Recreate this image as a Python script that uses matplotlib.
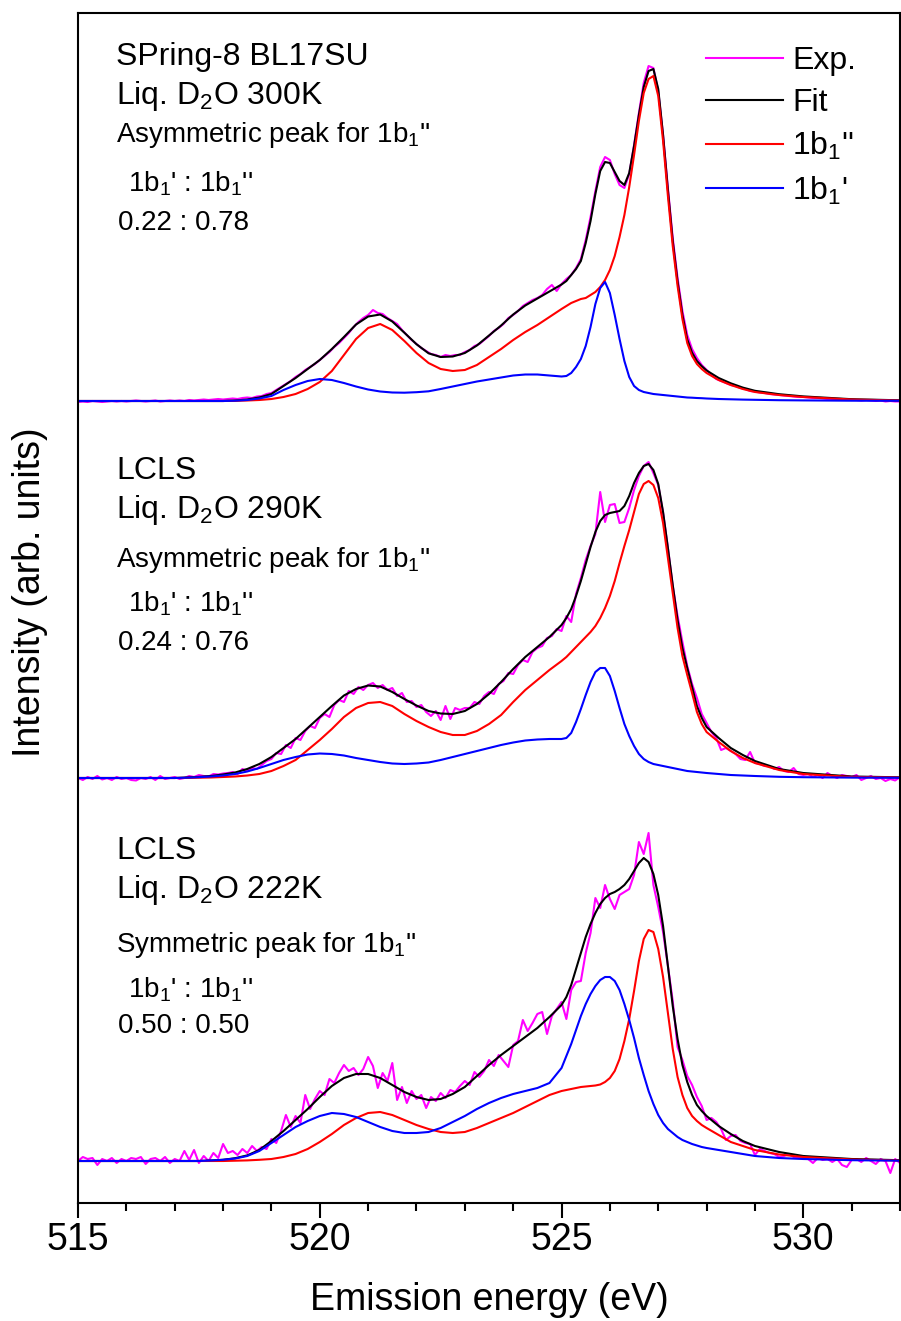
import numpy as np
import matplotlib as mpl
mpl.use('Agg')
from matplotlib import pyplot as plt
from matplotlib.ticker import MultipleLocator
from matplotlib.lines import Line2D

plt.rcParams['font.family'] = ['Liberation Sans', 'DejaVu Sans']
plt.rcParams['mathtext.fontset'] = 'custom'
plt.rcParams['mathtext.rm'] = 'Liberation Sans'
plt.rcParams['mathtext.it'] = 'Liberation Sans:italic'

# energy grid (eV) for the fitted curves
energy = np.array([515.0, 516.0, 517.0,
                   517.25, 517.5, 517.75, 518.0, 518.25, 518.5, 518.75, 519.0, 519.25, 519.5, 519.75,
                   520.0, 520.25, 520.5, 520.75, 521.0, 521.25, 521.5, 521.75, 522.0, 522.25, 522.5,
                   522.75, 523.0, 523.25, 523.5, 523.75, 524.0, 524.25, 524.5, 524.75,
                   525.0, 525.1, 525.2, 525.3, 525.4, 525.5, 525.6, 525.7, 525.8, 525.9,
                   526.0, 526.1, 526.2, 526.3, 526.4, 526.5, 526.6, 526.7, 526.8, 526.9,
                   527.0, 527.1, 527.2, 527.3, 527.4, 527.5, 527.6, 527.7, 527.8, 527.9, 528.0,
                   528.25, 528.5, 528.75, 529.0, 529.5, 530.0, 531.0, 532.0])
# energy grid for the measured spectra
energy_exp = np.linspace(515, 532, 171)

# ---- SPring-8 BL17SU, 300 K ----
spring_red = [0, 0, 0, 0, 0, 0, 0, 0.002, 0.005, 0.01, 0.02, 0.04, 0.07, 0.12,
              0.19, 0.30, 0.46, 0.62, 0.73, 0.77, 0.71, 0.60, 0.48, 0.38, 0.32,
              0.30, 0.31, 0.36, 0.44, 0.52, 0.61, 0.69, 0.76, 0.84,
              0.92, 0.95, 0.98, 1.00, 1.02, 1.03, 1.06, 1.09, 1.14, 1.21,
              1.31, 1.45, 1.64, 1.86, 2.14, 2.46, 2.80, 3.08, 3.22, 3.25,
              3.05, 2.60, 2.05, 1.55, 1.15, 0.82, 0.58, 0.45, 0.37, 0.32, 0.28,
              0.21, 0.16, 0.12, 0.09, 0.06, 0.04, 0.015, 0.005]
spring_blue = [0, 0, 0, 0, 0, 0, 0, 0.003, 0.01, 0.025, 0.05, 0.11, 0.16, 0.20,
               0.22, 0.21, 0.18, 0.145, 0.115, 0.095, 0.085, 0.083, 0.088, 0.097, 0.12,
               0.145, 0.17, 0.195, 0.215, 0.235, 0.255, 0.265, 0.265, 0.255,
               0.245, 0.25, 0.28, 0.34, 0.42, 0.55, 0.74, 0.97, 1.13, 1.19,
               1.08, 0.86, 0.62, 0.40, 0.24, 0.15, 0.11, 0.09, 0.08, 0.07,
               0.065, 0.06, 0.055, 0.05, 0.045, 0.04, 0.035, 0.033, 0.03, 0.028, 0.025,
               0.02, 0.017, 0.014, 0.012, 0.008, 0.006, 0.003, 0.002]
spring_fit = [0, 0, 0, 0, 0, 0, 0, 0.005, 0.015, 0.035, 0.07, 0.15, 0.23, 0.32,
              0.41, 0.52, 0.64, 0.765, 0.845, 0.865, 0.795, 0.683, 0.568, 0.477, 0.44,
              0.445, 0.48, 0.555, 0.655, 0.755, 0.865, 0.955, 1.025, 1.095,
              1.165, 1.20, 1.26, 1.32, 1.40, 1.58, 1.80, 2.07, 2.30, 2.39,
              2.38, 2.29, 2.20, 2.16, 2.28, 2.55, 2.86, 3.14, 3.30, 3.32,
              3.12, 2.66, 2.11, 1.60, 1.195, 0.86, 0.615, 0.483, 0.40, 0.348, 0.305,
              0.23, 0.177, 0.134, 0.102, 0.068, 0.046, 0.018, 0.007]
spring_exp = [-0.01, -0.005, -0.01, 0.0, -0.005, -0.01, -0.005, 0.0, -0.005, 0.0,
              -0.005, 0.0, 0.005, 0.0, -0.005, 0.0, 0.005, -0.005, 0.0, 0.005,
              0.0, 0.005, 0.0, 0.01, 0.005, 0.01, 0.015, 0.01, 0.015, 0.02,
              0.015, 0.02, 0.025, 0.02, 0.03, 0.035, 0.03, 0.045, 0.05, 0.07,
              0.08, 0.11, 0.14, 0.17, 0.20, 0.24, 0.27, 0.31, 0.34, 0.37,
              0.41, 0.45, 0.49, 0.54, 0.58, 0.63, 0.68, 0.74, 0.79, 0.83,
              0.86, 0.91, 0.88, 0.87, 0.83, 0.80, 0.77, 0.71, 0.66, 0.61,
              0.57, 0.53, 0.50, 0.47, 0.46, 0.44, 0.46, 0.45, 0.46, 0.46,
              0.49, 0.51, 0.55, 0.57, 0.61, 0.65, 0.70, 0.73, 0.77, 0.83,
              0.86, 0.90, 0.95, 0.98, 1.01, 1.03, 1.06, 1.12, 1.16, 1.10,
              1.17, 1.22, 1.26, 1.33, 1.42, 1.61, 1.84, 2.10, 2.34, 2.44,
              2.41, 2.27, 2.16, 2.13, 2.27, 2.56, 2.88, 3.18, 3.35, 3.33,
              3.10, 2.66, 2.13, 1.63, 1.23, 0.90, 0.66, 0.52, 0.43, 0.36,
              0.31, 0.26, 0.22, 0.20, 0.18, 0.16, 0.15, 0.13, 0.12, 0.10,
              0.095, 0.085, 0.08, 0.07, 0.065, 0.06, 0.055, 0.05, 0.045, 0.04,
              0.04, 0.035, 0.03, 0.03, 0.025, 0.02, 0.02, 0.02, 0.015, 0.01,
              0.015, 0.01, 0.005, 0.01, 0.005, 0.0, 0.005, -0.005, 0.0, -0.005,
              -0.005]

# ---- LCLS, 290 K ----
lcls290_red = [0, 0, 0, 0.001, 0.003, 0.005, 0.01, 0.015, 0.025, 0.04, 0.07, 0.12, 0.18, 0.28,
               0.38, 0.49, 0.61, 0.70, 0.75, 0.76, 0.72, 0.64, 0.57, 0.51, 0.46,
               0.43, 0.43, 0.47, 0.54, 0.63, 0.76, 0.88, 0.98, 1.08,
               1.17, 1.21, 1.26, 1.31, 1.36, 1.41, 1.46, 1.52, 1.60, 1.70,
               1.82, 1.97, 2.15, 2.32, 2.48, 2.66, 2.84, 2.94, 2.97, 2.93,
               2.80, 2.55, 2.20, 1.85, 1.50, 1.22, 1.03, 0.85, 0.66, 0.54, 0.46,
               0.36, 0.27, 0.20, 0.15, 0.08, 0.04, 0.01, 0.005]
lcls290_blue = [0, 0, 0, 0.003, 0.008, 0.015, 0.025, 0.04, 0.065, 0.10, 0.14, 0.18, 0.21, 0.235,
                0.245, 0.24, 0.225, 0.20, 0.18, 0.16, 0.145, 0.14, 0.145, 0.155, 0.18,
                0.21, 0.24, 0.27, 0.30, 0.33, 0.355, 0.375, 0.385, 0.39,
                0.39, 0.40, 0.45, 0.56, 0.69, 0.83, 0.96, 1.06, 1.10, 1.10,
                1.02, 0.87, 0.70, 0.54, 0.42, 0.32, 0.24, 0.19, 0.16, 0.14,
                0.13, 0.12, 0.11, 0.10, 0.09, 0.08, 0.07, 0.065, 0.06, 0.055, 0.05,
                0.04, 0.03, 0.025, 0.02, 0.012, 0.008, 0.004, 0.002]
lcls290_fit = [0, 0, 0, 0.005, 0.011, 0.02, 0.035, 0.055, 0.09, 0.14, 0.21, 0.30, 0.39, 0.50,
               0.61, 0.72, 0.825, 0.89, 0.925, 0.915, 0.86, 0.79, 0.725, 0.67, 0.645,
               0.64, 0.67, 0.74, 0.84, 0.96, 1.09, 1.21, 1.31, 1.41,
               1.53, 1.60, 1.69, 1.82, 1.97, 2.14, 2.31, 2.46, 2.57, 2.63,
               2.65, 2.66, 2.67, 2.72, 2.82, 2.95, 3.05, 3.12, 3.14, 3.08,
               2.94, 2.66, 2.30, 1.93, 1.58, 1.30, 1.10, 0.91, 0.72, 0.60, 0.51,
               0.40, 0.30, 0.23, 0.17, 0.09, 0.05, 0.015, 0.007]
lcls290_exp = [0.0, -0.02, 0.01, -0.01, 0.02, -0.015, 0.0, -0.02, 0.01, -0.01,
               0.0, -0.02, -0.025, 0.0, -0.01, 0.01, -0.02, 0.02, -0.01, 0.0,
               0.01, -0.01, 0.0, 0.02, 0.01, 0.03, 0.02, 0.015, 0.04, 0.035,
               0.045, 0.05, 0.06, 0.04, 0.09, 0.07, 0.10, 0.09, 0.13, 0.17,
               0.19, 0.25, 0.24, 0.33, 0.30, 0.40, 0.38, 0.47, 0.52, 0.50,
               0.60, 0.64, 0.61, 0.73, 0.78, 0.76, 0.87, 0.84, 0.91, 0.88,
               0.93, 0.95, 0.90, 0.93, 0.88, 0.90, 0.82, 0.85, 0.76, 0.77,
               0.71, 0.73, 0.66, 0.62, 0.67, 0.58, 0.72, 0.59, 0.70, 0.68,
               0.70, 0.70, 0.76, 0.74, 0.82, 0.86, 0.84, 0.94, 0.97, 1.05,
               1.04, 1.13, 1.18, 1.16, 1.26, 1.30, 1.32, 1.40, 1.42, 1.49,
               1.47, 1.62, 1.56, 1.84, 2.00, 2.18, 2.32, 2.44, 2.86, 2.56,
               2.73, 2.74, 2.55, 2.56, 2.70, 2.88, 3.02, 3.12, 3.16, 3.05,
               2.93, 2.65, 2.30, 1.92, 1.62, 1.36, 1.12, 0.94, 0.80, 0.64,
               0.55, 0.46, 0.40, 0.28, 0.30, 0.27, 0.24, 0.19, 0.18, 0.26,
               0.15, 0.14, 0.12, 0.12, 0.09, 0.11, 0.07, 0.06, 0.10, 0.04,
               0.03, 0.04, 0.01, 0.03, 0.0, 0.05, 0.02, 0.0, 0.03, 0.02,
               0.01, 0.03, -0.02, 0.0, 0.02, -0.01, 0.0, -0.03, -0.01, -0.025,
               0.01]

# ---- LCLS, 222 K ----
lcls222_red = [0, 0, 0, 0, 0, 0, 0, 0.003, 0.006, 0.012, 0.02, 0.04, 0.07, 0.12,
               0.19, 0.27, 0.36, 0.43, 0.48, 0.49, 0.46, 0.41, 0.36, 0.32, 0.29,
               0.28, 0.29, 0.33, 0.38, 0.43, 0.48, 0.54, 0.60, 0.66,
               0.70, 0.71, 0.72, 0.73, 0.74, 0.745, 0.75, 0.755, 0.765, 0.79,
               0.83, 0.90, 1.02, 1.20, 1.42, 1.70, 2.00, 2.22, 2.31, 2.29,
               2.12, 1.84, 1.48, 1.12, 0.84, 0.66, 0.53, 0.45, 0.40, 0.36, 0.33,
               0.26, 0.19, 0.15, 0.11, 0.065, 0.04, 0.015, 0.005]
lcls222_blue = [0, 0, 0, 0, 0, 0.005, 0.012, 0.025, 0.05, 0.10, 0.18, 0.26, 0.34, 0.40,
                0.45, 0.48, 0.47, 0.44, 0.39, 0.34, 0.30, 0.28, 0.28, 0.29, 0.33,
                0.39, 0.45, 0.52, 0.58, 0.63, 0.67, 0.70, 0.73, 0.78,
                0.93, 1.05, 1.17, 1.31, 1.45, 1.57, 1.67, 1.75, 1.81, 1.84,
                1.84, 1.80, 1.71, 1.57, 1.41, 1.23, 1.03, 0.86, 0.70, 0.57,
                0.46, 0.38, 0.32, 0.28, 0.24, 0.21, 0.19, 0.17, 0.155, 0.14, 0.13,
                0.11, 0.09, 0.07, 0.05, 0.03, 0.02, 0.008, 0.003]
lcls222_fit = [0, 0, 0, 0, 0, 0.005, 0.012, 0.028, 0.056, 0.11, 0.20, 0.30, 0.41, 0.52,
               0.64, 0.75, 0.83, 0.87, 0.87, 0.83, 0.76, 0.69, 0.64, 0.61, 0.62,
               0.67, 0.74, 0.85, 0.96, 1.06, 1.15, 1.24, 1.33, 1.44,
               1.56, 1.64, 1.76, 1.92, 2.08, 2.24, 2.37, 2.48, 2.57, 2.63,
               2.67, 2.69, 2.72, 2.76, 2.82, 2.90, 2.98, 3.03, 2.99, 2.87,
               2.66, 2.35, 1.95, 1.55, 1.22, 0.96, 0.79, 0.66, 0.56, 0.50, 0.45,
               0.35, 0.27, 0.20, 0.15, 0.09, 0.05, 0.02, 0.008]
lcls222_exp = [0.0, 0.04, 0.02, 0.03, -0.04, 0.02, 0.0, 0.03, -0.02, 0.02,
               0.0, 0.03, 0.02, 0.04, -0.03, 0.02, 0.03, 0.0, 0.04, -0.02,
               0.02, 0.0, 0.10, 0.01, 0.11, -0.02, 0.05, 0.0, 0.08, 0.03,
               0.17, 0.08, 0.10, 0.06, 0.12, 0.08, 0.15, 0.10, 0.14, 0.12,
               0.22, 0.18, 0.30, 0.46, 0.34, 0.45, 0.38, 0.66, 0.52, 0.62,
               0.70, 0.66, 0.82, 0.78, 0.88, 0.96, 0.90, 0.93, 0.86, 0.92,
               1.04, 0.95, 0.73, 0.88, 0.80, 0.98, 0.61, 0.74, 0.58, 0.70,
               0.62, 0.66, 0.53, 0.64, 0.60, 0.68, 0.63, 0.71, 0.69, 0.75,
               0.80, 0.76, 0.89, 0.84, 0.90, 1.01, 0.95, 1.06, 1.00, 0.94,
               1.16, 1.20, 1.41, 1.30, 1.38, 1.47, 1.49, 1.27, 1.45, 1.52,
               1.59, 1.42, 1.71, 1.79, 1.80, 2.08, 2.28, 2.63, 2.53, 2.76,
               2.62, 2.52, 2.66, 2.69, 2.72, 2.86, 3.19, 3.07, 3.28, 2.76,
               2.54, 2.29, 1.95, 1.60, 1.14, 1.01, 0.85, 0.76, 0.64, 0.55,
               0.41, 0.43, 0.39, 0.32, 0.21, 0.25, 0.26, 0.20, 0.18, 0.17,
               0.06, 0.12, 0.10, 0.08, 0.07, 0.04, 0.05, 0.07, 0.04, 0.03,
               0.05, 0.02, -0.02, 0.03, 0.01, 0.02, -0.01, 0.02, -0.04, -0.06,
               0.01, 0.02, -0.01, 0.03, 0.0, -0.03, 0.02, 0.0, -0.12, 0.02,
               -0.02]

offsets = [7.60, 3.83, 0.0]
spectra = [
    (spring_exp, spring_fit, spring_red, spring_blue),
    (lcls290_exp, lcls290_fit, lcls290_red, lcls290_blue),
    (lcls222_exp, lcls222_fit, lcls222_red, lcls222_blue),
]

c_exp = '#FF00FF'
c_fit = '#000000'
c_red = '#FF0000'
c_blue = '#0000FF'
lw = 1.5

fig = plt.figure(figsize=(9.01, 13.21), dpi=100)
ax = fig.add_axes([78/901, 118/1321, 822/901, 1190/1321])

for off, (ex, fi, rd, bl) in zip(offsets, spectra):
    ax.plot(energy_exp, np.array(ex) + off, color=c_exp, lw=lw)
    ax.plot(energy, np.array(fi) + off, color=c_fit, lw=lw)
    ax.plot(energy, np.array(rd) + off, color=c_red, lw=lw)
    ax.plot(energy, np.array(bl) + off, color=c_blue, lw=lw)

ax.set_xlim(515, 532)
ax.set_ylim(-0.42, 11.48)
ax.set_yticks([])
ax.set_xticks([515, 520, 525, 530])
ax.xaxis.set_minor_locator(MultipleLocator(1))
ax.tick_params(which='major', axis='x', direction='out', length=11, width=1.5, labelsize=27, pad=3)
ax.tick_params(which='minor', axis='x', direction='out', length=6, width=1.5)
for sp in ax.spines.values():
    sp.set_linewidth(1.5)

ax.set_xlabel('Emission energy (eV)', fontsize=27, va='center')
ax.xaxis.set_label_coords(0.5, -(1300 - 1203) / 1190)
ax.set_ylabel('Intensity (arb. units)', fontsize=27, va='center')
ax.yaxis.set_label_coords(-(78 - 30) / 822, (1203 - 592) / 1190)

sub1 = r'$_\mathregular{1}$'
handles = [Line2D([], [], color=c, lw=lw) for c in (c_exp, c_fit, c_red, c_blue)]
labels = ['Exp.', 'Fit', '1b' + sub1 + "''", '1b' + sub1 + "'"]
ax.legend(handles, labels, loc='upper left', bbox_to_anchor=((706 - 78) / 822, (1203 - 46) / 1190),
          frameon=False, fontsize=23, handlelength=2.4, handletextpad=0.3,
          labelspacing=0.38, borderpad=0, borderaxespad=0)

# annotations: (x px, baseline y px, text, size)
notes = [
    (116, 65, 'SPring-8 BL17SU', 23),
    (116, 104, 'Liq. D$_\\mathregular{2}$O 300K', 23),
    (116, 142, 'Asymmetric peak for 1b' + sub1 + "''", 20),
    (128, 192, '1b' + sub1 + "' : 1b" + sub1 + "''", 20),
    (118, 230, '0.22 : 0.78', 20),
    (116, 479, 'LCLS', 23),
    (116, 518, 'Liq. D$_\\mathregular{2}$O 290K', 23),
    (116, 567, 'Asymmetric peak for 1b' + sub1 + "''", 20),
    (128, 612, '1b' + sub1 + "' : 1b" + sub1 + "''", 20),
    (118, 650, '0.24 : 0.76', 20),
    (116, 859, 'LCLS', 23),
    (116, 898, 'Liq. D$_\\mathregular{2}$O 222K', 23),
    (116, 952, 'Symmetric peak for 1b' + sub1 + "''", 20),
    (128, 997, '1b' + sub1 + "' : 1b" + sub1 + "''", 20),
    (118, 1033, '0.50 : 0.50', 20),
]
for x, y, s, fs in notes:
    fig.text(x / 901, 1 - y / 1321, s, fontsize=fs, ha='left', va='baseline')

plt.savefig('out.png', dpi=100)
plt.close()
